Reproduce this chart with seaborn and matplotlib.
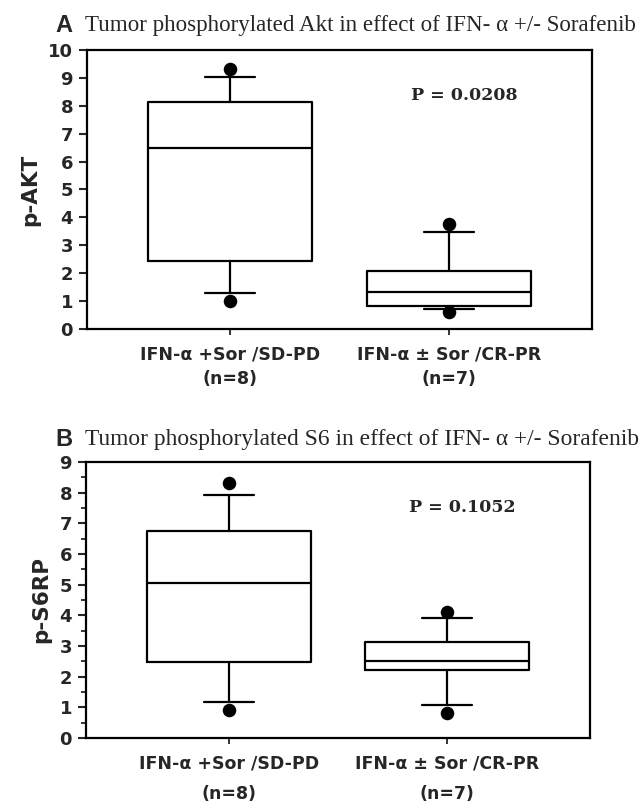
import numpy as np
import pandas as pd
import matplotlib.pyplot as plt
import seaborn as sns
from matplotlib.ticker import MultipleLocator

# ----- Dados -----
grupos = ['IFN-α +Sor /SD-PD', 'IFN-α ± Sor /CR-PR']
n_grupos = ['(n=8)', '(n=7)']

# Painel A - p-AKT
akt_ponto_baixo = [1.0, 0.62]
akt_bigode_baixo = [1.28, 0.71]
akt_q1 = [2.45, 0.84]
akt_mediana = [6.5, 1.33]
akt_q3 = [8.14, 2.09]
akt_bigode_alto = [9.02, 3.48]
akt_ponto_alto = [9.33, 3.75]

# Painel B - p-S6RP
s6_ponto_baixo = [0.91, 0.8]
s6_bigode_baixo = [1.18, 1.06]
s6_q1 = [2.48, 2.2]
s6_mediana = [5.05, 2.5]
s6_q3 = [6.74, 3.12]
s6_bigode_alto = [7.93, 3.9]
s6_ponto_alto = [8.3, 4.1]

sns.set_style('ticks')
plt.rcParams['font.family'] = ['DejaVu Sans']

fig = plt.figure(figsize=(6.43, 8.01), dpi=100)
ax1 = fig.add_axes([0.1353, 0.5893, 0.7854, 0.3483])
ax2 = fig.add_axes([0.1337, 0.0787, 0.7840, 0.3446])


def painel(ax, q1, med, q3, blo, bhi, plo, phi, ymax, ylabel, ptexto, py, menores, espaco):
    stats = []
    for i in range(len(grupos)):
        stats.append(dict(med=med[i], q1=q1[i], q3=q3[i], whislo=blo[i], whishi=bhi[i], fliers=[]))
    estilo = dict(color='black', linewidth=1.6)
    ax.bxp(stats, positions=[0, 1], widths=0.75, capwidths=0.23, showfliers=False,
           boxprops=estilo, medianprops=estilo, whiskerprops=estilo, capprops=estilo)

    # pontos extremos
    df_pts = pd.DataFrame({'pos': [0, 1, 0, 1], 'valor': list(plo) + list(phi)})
    sns.scatterplot(data=df_pts, x='pos', y='valor', color='black', s=95,
                    edgecolor='black', linewidth=0, zorder=5, legend=False, ax=ax)

    ax.set_xlim(-0.653, 1.653)
    ax.set_ylim(0, ymax)
    ax.set_yticks(range(0, ymax + 1))
    if menores:
        ax.yaxis.set_minor_locator(MultipleLocator(0.5))
    ax.set_xticks([0, 1])
    ax.set_xticklabels([g + '\n' + n for g, n in zip(grupos, n_grupos)],
                       fontweight='bold', fontsize=12.5, linespacing=espaco)
    for t in ax.get_yticklabels():
        t.set_fontweight('bold')
        t.set_fontsize(13)
    ax.tick_params(axis='y', which='major', length=6, width=1.5, pad=4)
    ax.tick_params(axis='y', which='minor', length=3.5, width=1.3)
    ax.tick_params(axis='x', length=4, width=1.3, pad=8)
    for s in ax.spines.values():
        s.set_linewidth(1.6)
        s.set_color('black')
    ax.set_xlabel('')
    ax.set_ylabel(ylabel, fontweight='bold', fontsize=15.5, labelpad=6)
    ax.text(1.07, py, ptexto, ha='center', va='center', fontsize=12.5,
            fontweight='bold', family='DejaVu Serif')


painel(ax1, akt_q1, akt_mediana, akt_q3, akt_bigode_baixo, akt_bigode_alto,
       akt_ponto_baixo, akt_ponto_alto, 10, 'p-AKT', 'P = 0.0208', 8.38, False, 1.45)
painel(ax2, s6_q1, s6_mediana, s6_q3, s6_bigode_baixo, s6_bigode_alto,
       s6_ponto_baixo, s6_ponto_alto, 9, 'p-S6RP', 'P = 0.1052', 7.5, True, 1.85)

# ----- Títulos -----
fig.text(55 / 643, 1 - 25 / 801, 'A', fontsize=17, fontweight='bold', family='Liberation Sans', va='center')
fig.text(85 / 643, 1 - 25 / 801, 'Tumor phosphorylated Akt in effect of IFN- α +/- Sorafenib',
         fontsize=16.6, family='Liberation Serif', va='center')
fig.text(55 / 643, 1 - 440 / 801, 'B', fontsize=17, fontweight='bold', family='Liberation Sans', va='center')
fig.text(85 / 643, 1 - 440 / 801, 'Tumor phosphorylated S6 in effect of IFN- α +/- Sorafenib',
         fontsize=16.9, family='Liberation Serif', va='center')

fig.savefig('out.png', dpi=100)
